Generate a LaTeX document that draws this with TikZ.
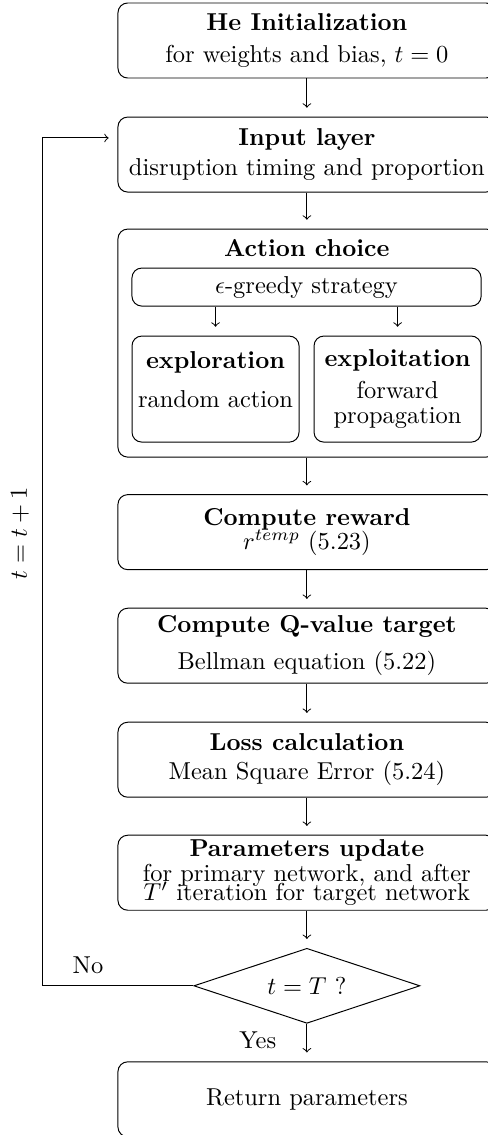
\documentclass[tikz,border=0pt]{standalone}
\usetikzlibrary{shapes.geometric}

\begin{document}
\begin{tikzpicture}[
    box/.style={draw, rounded corners=4pt, minimum width=5.43cm, minimum height=1.078cm, align=center, inner sep=0pt},
    inbox/.style={draw, rounded corners=4pt, minimum width=2.4cm, minimum height=1.524cm, align=center, inner sep=0pt},
    flow/.style={->, shorten >=3.6pt}]
    \useasboundingbox (0,0) rectangle (7.0,-16.31);
    % main chain
    \node[box] (init) at (4.41, -0.582) {\textbf{He Initialization}\\[1pt] for weights and bias, $t=0$};
    \node[box] (input) at (4.41, -2.221) {\textbf{Input layer}\\ disruption timing and proportion};
    \node[box, minimum height=3.277cm] (action) at (4.41, -4.93) {};
    \node (acttitle) at (4.41, -3.565) {\textbf{Action choice}};
    \node[draw, rounded corners=4pt, minimum width=5.017cm, minimum height=0.546cm, inner sep=0pt] (eps) at (4.405, -4.125) {$\epsilon$-greedy strategy};
    \node[inbox] (explore) at (3.097, -5.591) {\textbf{exploration}\\[4pt] random action\\[-4pt]};
    \node[inbox] (exploit) at (5.713, -5.591) {\textbf{exploitation}\\[1pt] forward\\[-2pt] propagation};
    \node[box] (reward) at (4.41, -7.647) {\textbf{Compute reward}\\[-2pt] $r^{temp}$ (5.23)};
    \node[box] (qval) at (4.41, -9.279) {\textbf{Compute Q-value target}\\[3pt] Bellman equation (5.22)};
    \node[box] (loss) at (4.41, -10.917) {\textbf{Loss calculation}\\ Mean Square Error (5.24)};
    \node[box] (params) at (4.41, -12.541) {\textbf{Parameters update}\\[-2pt] for primary network, and after\\[-4pt] $T'$ iteration for target network};
    \node[draw, diamond, aspect=3, minimum width=3.249cm, minimum height=1.078cm, inner sep=0pt] (check) at (4.41, -14.166) {$t=T$ ?};
    \node[box] (ret) at (4.41, -15.797) {Return parameters};
    \coordinate (loopx) at (0.604, -14.166);
    % arrows
    \draw[flow] (init) -- (input);
    \draw[flow] (input) -- (action);
    \draw[flow] (eps.south -| explore.north) -- (explore.north);
    \draw[flow] (eps.south -| exploit.north) -- (exploit.north);
    \draw[flow] (action) -- (reward);
    \draw[flow] (reward) -- (qval);
    \draw[flow] (qval) -- (loss);
    \draw[flow] (loss) -- (params);
    \draw[flow] (params) -- (check);
    \draw[flow] (check) -- node[left=9pt, pos=0.45] (yes) {Yes} (ret);
    \draw[flow] (check.west) -- (loopx) |- (input.175);
    \node (no) at (1.265, -13.87) {No};
    \node[rotate=90] (inc) at (0.287, -7.66) {$t=t+1$};
\end{tikzpicture}
\end{document}
